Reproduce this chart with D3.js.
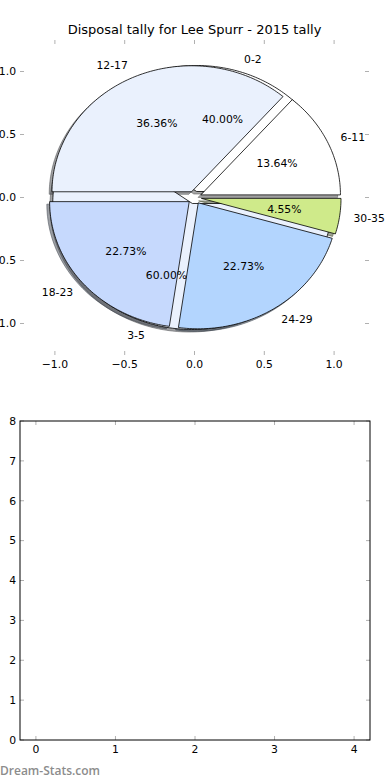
<!DOCTYPE html>
<html>
<head>
<meta charset="utf-8">
<script src="https://cdn.jsdelivr.net/npm/d3@7"></script>
<style>
  body { margin: 0; background: #fff; }
  svg { display: block; }
  text { font-family: "DejaVu Sans", sans-serif; fill: #000; }
</style>
</head>
<body>
<div id="chart"></div>
<script>
// two pies drawn on the same axes, the second one on top
var innerLabels = ['0-2', '3-5'];
var innerValues = [2, 3];
var outerLabels = ['6-11', '12-17', '18-23', '24-29', '30-35'];
var outerValues = [3, 8, 5, 5, 1];
var sliceColors = ['#ffffff', '#eaf1fd', '#c6d9fd', '#b3d5fe', '#cfea8a'];
var explodeBy = 0.05;

var pieTicks = [-1.0, -0.5, 0.0, 0.5, 1.0];
var emptyXTicks = [0, 1, 2, 3, 4];
var emptyYTicks = [0, 1, 2, 3, 4, 5, 6, 7, 8];

var W = 390, H = 780;
var svg = d3.select('#chart').append('svg').attr('width', W).attr('height', H);

// top axes (pie)
var px = d3.scaleLinear().domain([-1.25, 1.25]).range([20, 369]);
var py = d3.scaleLinear().domain([-1.25, 1.25]).range([355, 40]);

svg.append('text')
  .attr('x', (px(-1.25) + px(1.25)) / 2).attr('y', 34)
  .attr('text-anchor', 'middle').style('font-size', '13px')
  .text('Disposal tally for Lee Spurr - 2015 tally');

var pieLayout = d3.pie().sort(null).startAngle(0).endAngle(2 * Math.PI);

function wedgePoints(cx, cy, a0, a1) {
  var pts = [[cx, cy]];
  var n = Math.max(8, Math.ceil((a1 - a0) / 0.02));
  for (var i = 0; i <= n; i++) {
    var a = a0 + (a1 - a0) * i / n;
    pts.push([cx + Math.cos(a), cy + Math.sin(a)]);
  }
  return pts;
}

var line = d3.line().x(function (d) { return px(d[0]); }).y(function (d) { return py(d[1]); });

function buildSlices(labels, values) {
  return pieLayout(values).map(function (s, i) {
    var mid = (s.startAngle + s.endAngle) / 2;
    return {
      label: labels[i],
      pct: (100 * s.value / d3.sum(values)).toFixed(2) + '%',
      a0: s.startAngle, a1: s.endAngle, mid: mid,
      cx: explodeBy * Math.cos(mid), cy: explodeBy * Math.sin(mid),
      color: sliceColors[i]
    };
  });
}

var inner = buildSlices(innerLabels, innerValues);
var outer = buildSlices(outerLabels, outerValues);
var all = inner.concat(outer);

function shadowColor(c) {
  var rgb = d3.rgb(c);
  return 'rgba(' + Math.round(rgb.r * 0.3) + ',' + Math.round(rgb.g * 0.3) + ',' + Math.round(rgb.b * 0.3) + ',0.5)';
}

var pieG = svg.append('g');

// shadows first, then wedges
pieG.selectAll('path.shadow').data(all).enter().append('path')
  .attr('class', 'shadow')
  .attr('d', function (d) { return line(wedgePoints(d.cx - 0.02, d.cy - 0.02, d.a0, d.a1)) + 'Z'; })
  .attr('fill', function (d) { return shadowColor(d.color); })
  .attr('stroke', function (d) { return shadowColor(d.color); })
  .attr('stroke-width', 1);

pieG.selectAll('path.wedge').data(all).enter().append('path')
  .attr('class', 'wedge')
  .attr('d', function (d) { return line(wedgePoints(d.cx, d.cy, d.a0, d.a1)) + 'Z'; })
  .attr('fill', function (d) { return d.color; })
  .attr('stroke', '#000')
  .attr('stroke-width', 0.8)
  .attr('stroke-linejoin', 'round');

pieG.selectAll('text.lbl').data(all).enter().append('text')
  .attr('x', function (d) { return px(d.cx + 1.1 * Math.cos(d.mid)); })
  .attr('y', function (d) { return py(d.cy + 1.1 * Math.sin(d.mid)); })
  .attr('dy', '0.35em')
  .attr('text-anchor', function (d) { return (d.cx + 1.1 * Math.cos(d.mid)) > 0 ? 'start' : 'end'; })
  .style('font-size', '10.8px')
  .text(function (d) { return d.label; });

pieG.selectAll('text.pct').data(all).enter().append('text')
  .attr('x', function (d) { return px(d.cx + 0.6 * Math.cos(d.mid)); })
  .attr('y', function (d) { return py(d.cy + 0.6 * Math.sin(d.mid)); })
  .attr('dy', '0.35em')
  .attr('text-anchor', 'middle')
  .style('font-size', '10.8px')
  .text(function (d) { return d.pct; });

var tickCol = '#b0b0b0';
function fmt(v) { return d3.format('.1f')(v).replace('-', '\u2212'); }

// pie axes ticks (no frame)
function tickMarks(g, xs, ys, xt, yt, left, right, top, bottom) {
  xt.forEach(function (t) {
    g.append('line').attr('x1', xs(t)).attr('x2', xs(t)).attr('y1', top).attr('y2', top + 4).attr('stroke', tickCol);
    g.append('line').attr('x1', xs(t)).attr('x2', xs(t)).attr('y1', bottom).attr('y2', bottom - 4).attr('stroke', tickCol);
  });
  yt.forEach(function (t) {
    g.append('line').attr('x1', left).attr('x2', left + 4).attr('y1', ys(t)).attr('y2', ys(t)).attr('stroke', tickCol);
    g.append('line').attr('x1', right).attr('x2', right - 4).attr('y1', ys(t)).attr('y2', ys(t)).attr('stroke', tickCol);
  });
}

var topAx = svg.append('g');
tickMarks(topAx, px, py, pieTicks, pieTicks, 20, 369, 40, 355);
topAx.selectAll('text.xt').data(pieTicks).enter().append('text')
  .attr('x', function (d) { return px(d); }).attr('y', 368)
  .attr('text-anchor', 'middle').style('font-size', '10.8px')
  .text(fmt);
topAx.selectAll('text.yt').data(pieTicks).enter().append('text')
  .attr('x', 16).attr('y', function (d) { return py(d); }).attr('dy', '0.35em')
  .attr('text-anchor', 'end').style('font-size', '10.8px')
  .text(fmt);

// bottom empty axes
var ex = d3.scaleLinear().domain([-0.2, 4.2]).range([20, 370]);
var ey = d3.scaleLinear().domain([0, 8]).range([740, 421]);
var botAx = svg.append('g');
tickMarks(botAx, ex, ey, emptyXTicks, emptyYTicks, 20, 370, 421, 740);
botAx.append('rect').attr('x', 20).attr('y', 421).attr('width', 350).attr('height', 319)
  .attr('fill', 'none').attr('stroke', '#000').attr('stroke-width', 1);
botAx.selectAll('text.xt').data(emptyXTicks).enter().append('text')
  .attr('x', function (d) { return ex(d); }).attr('y', 753)
  .attr('text-anchor', 'middle').style('font-size', '10.8px')
  .text(function (d) { return d; });
botAx.selectAll('text.yt').data(emptyYTicks).enter().append('text')
  .attr('x', 16).attr('y', function (d) { return ey(d); }).attr('dy', '0.35em')
  .attr('text-anchor', 'end').style('font-size', '10.8px')
  .text(function (d) { return d; });

svg.append('text').attr('x', 0).attr('y', 775)
  .style('font-family', '"Open Sans", sans-serif').style('font-size', '12px')
  .style('font-weight', '600').style('fill', '#8c8c8c')
  .text('Dream-Stats.com');
</script>
</body>
</html>
